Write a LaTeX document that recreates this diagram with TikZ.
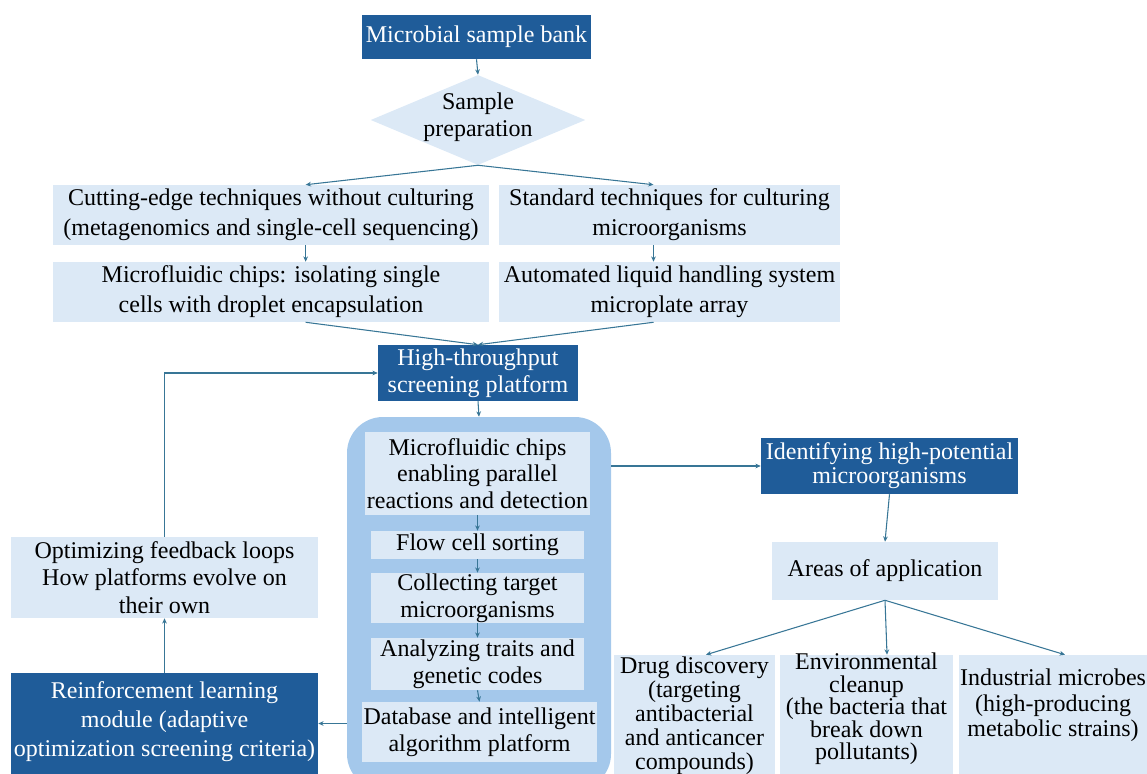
\documentclass[tikz,border=0pt]{standalone}
\usepackage{fontspec}
\setmainfont{Liberation Serif}
\usetikzlibrary{fit,shapes.geometric,arrows.meta}
\definecolor{deepblue}{RGB}{31,92,153}
\definecolor{paleblue}{RGB}{220,233,246}
\definecolor{midblue}{RGB}{164,200,235}
\definecolor{linkblue}{RGB}{56,118,150}
% a filled box spanning two corners, with its caption set in a node of its own
\newcommand\panel[6]{%
  \node[#1, fit={#3 #4}] (#2) {};
  \node[#5] (#2-t) at (#2.center) {#6};}
\begin{document}
\begin{tikzpicture}[x=0.75pt,y=-0.75pt,
  every node/.style={font=\fontsize{18}{20}\selectfont, align=center, inner sep=0pt},
  darkbox/.style={fill=deepblue, draw=none},
  lightbox/.style={fill=paleblue, draw=none},
  onDark/.style={text=white},
  link/.style={draw=linkblue, line width=0.8pt, -{Stealth[length=4pt,width=3.5pt]}}]
\useasboundingbox (0,0) rectangle (1147,774);
\clip (0,0) rectangle (1147,774);

% top of the pipeline
\panel{darkbox}{bank}{(362,15)}{(591,59)}{onDark}{Microbial sample bank}
\node[diamond, fill=paleblue, minimum width=161pt, minimum height=67.5pt] (prep) at (478,120) {};
\node (preptext) at (478,117) {Sample\\preparation};

\panel{lightbox}{nocult}{(53,185)}{(489,245)}{font=\fontsize{18}{22.5}\selectfont}
  {Cutting-edge techniques without culturing\\(metagenomics and single-cell sequencing)}
\panel{lightbox}{cult}{(499,185)}{(840,245)}{font=\fontsize{18}{22.5}\selectfont}
  {Standard techniques for culturing\\microorganisms}
\panel{lightbox}{chip}{(53,262)}{(489,322)}{font=\fontsize{18}{22.5}\selectfont}
  {Microfluidic chips: isolating single\\cells with droplet encapsulation}
\panel{lightbox}{liquid}{(499,262)}{(840,322)}{font=\fontsize{18}{22.5}\selectfont}
  {Automated liquid handling system\\microplate array}

\panel{darkbox}{hts}{(378,345)}{(578,401)}{onDark}{High-throughput\\screening platform}

% screening platform with its stages
\node[fill=midblue, rounded corners=27pt, fit={(347,417) (611,790)}] (platform) {};
\panel{lightbox}{mf}{(365,432)}{(590,515)}{}{Microfluidic chips\\enabling parallel\\reactions and detection}
\panel{lightbox}{flow}{(371,531)}{(584,559)}{}{Flow cell sorting}
\panel{lightbox}{collect}{(371,573)}{(584,623)}{}{Collecting target\\microorganisms}
\panel{lightbox}{analyze}{(371,638)}{(584,690)}{}{Analyzing traits and\\genetic codes}
\panel{lightbox}{db}{(362,702)}{(597,762)}{}{Database and intelligent\\algorithm platform}

% outcomes
\panel{darkbox}{ident}{(761,438)}{(1018,494)}{onDark, font=\fontsize{18}{18}\selectfont}
  {Identifying high-potential\\microorganisms}
\panel{lightbox}{areas}{(772,542)}{(998,600)}{}{Areas of application}
\node[lightbox, fit={(614,655) (775,774)}] (drug) {};
\node[lightbox, fit={(780,655) (953,774)}] (env) {};
\node[lightbox, fit={(959,655) (1147,774)}] (ind) {};
\node[font=\fontsize{18}{18}\selectfont] (drugtext) at (694.5,716)
  {Drug discovery\\(targeting\\antibacterial\\and anticancer\\compounds)};
\node[font=\fontsize{18}{16.8}\selectfont] (envtext) at (866.5,709)
  {Environmental\\cleanup\\(the bacteria that\\break down\\pollutants)};
\node[font=\fontsize{18}{19}\selectfont] (indtext) at (1053,705.5)
  {Industrial microbes\\(high-producing\\metabolic strains)};

% feedback side
\panel{lightbox}{fb}{(11,537)}{(318,618)}{font=\fontsize{18}{20.5}\selectfont}
  {Optimizing feedback loops\\How platforms evolve on\\their own}
\node[darkbox, fit={(11,673) (318,774)}] (rl) {};
\node[text=white, font=\fontsize{18}{21.75}\selectfont] (rltext) at (164.5,722)
  {Reinforcement learning\\module (adaptive\\optimization screening criteria)};

% connectors
\draw[link] (bank.south) -- (prep.north);
\draw[link] (prep.south) -- ([xshift=26pt]nocult.north);
\draw[link] (prep.south) -- ([xshift=-12pt]cult.north);
\draw[link] ([xshift=26pt]nocult.south) -- ([xshift=26pt]chip.north);
\draw[link] ([xshift=-12pt]cult.south) -- ([xshift=-12pt]liquid.north);
\draw[link] ([xshift=26pt]chip.south) -- (hts.north);
\draw[link] ([xshift=-12pt]liquid.south) -- (hts.north);
\draw[link] (hts.south) -- (platform.north);
\draw[link] (mf.south) -- (flow.north);
\draw[link] (flow.south) -- (collect.north);
\draw[link] (collect.south) -- (analyze.north);
\draw[link] (analyze.south) -- (db.north);
\draw[link] (platform.east |- ident.west) -- (ident.west);
\draw[link] (ident.south) -- (areas.north);
\draw[link] (areas.south) -- ([xshift=8.6pt]drug.north);
\draw[link] (areas.south) -- ([xshift=15.4pt]env.north);
\draw[link] (areas.south) -- ([xshift=9pt]ind.north);
\draw[link] (platform.west |- rl.east) -- (rl.east);
\draw[link] (rl.north) -- (fb.south);
\draw[link] (fb.north) |- (hts.west);
\end{tikzpicture}
\end{document}
